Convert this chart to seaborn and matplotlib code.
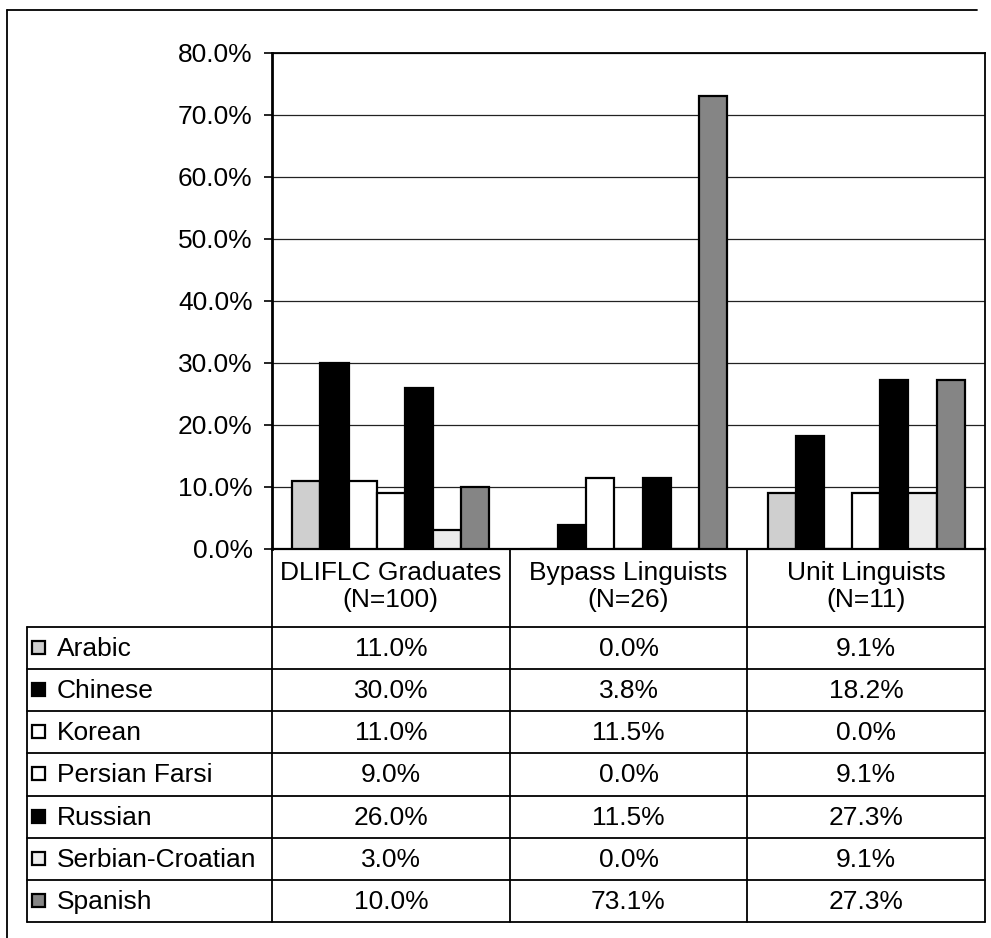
import matplotlib
matplotlib.use("Agg")
import matplotlib.pyplot as plt
import seaborn as sns
import pandas as pd
import numpy as np
from matplotlib.ticker import FuncFormatter
from matplotlib.patches import Rectangle

# Groups of linguists and their sample sizes
groups = ["DLIFLC Graduates", "Bypass Linguists", "Unit Linguists"]
group_n = ["(N=100)", "(N=26)", "(N=11)"]

# Languages and their fills
languages = ["Arabic", "Chinese", "Korean", "Persian Farsi", "Russian",
             "Serbian-Croatian", "Spanish"]
fills = ["#cfcfcf", "#000000", "#ffffff", "#ffffff", "#000000", "#ececec", "#858585"]

# Share of each language within each group (percent)
arabic = [11.0, 0.0, 9.1]
chinese = [30.0, 3.8, 18.2]
korean = [11.0, 11.5, 0.0]
persian = [9.0, 0.0, 9.1]
russian = [26.0, 11.5, 27.3]
serbian = [3.0, 0.0, 9.1]
spanish = [10.0, 73.1, 27.3]
series = [arabic, chinese, korean, persian, russian, serbian, spanish]

y_ticks = [0, 10, 20, 30, 40, 50, 60, 70, 80]

rows = []
for lang, vals in zip(languages, series):
    for g, v in zip(groups, vals):
        rows.append({"group": g, "language": lang, "value": v})
df = pd.DataFrame(rows)

sns.set_theme(style="white")
plt.rcParams["font.family"] = ["Liberation Sans", "DejaVu Sans"]
FS = 19

W, H = 991, 938
fig = plt.figure(figsize=(W / 100, H / 100), dpi=100)
fig.patch.set_facecolor("white")

# Bar chart area (pixel layout converted to figure fractions)
px_left, px_right, px_top, px_base = 272, 985, 53, 549
ax = fig.add_axes([px_left / W, (H - px_base) / H,
                   (px_right - px_left) / W, (px_base - px_top) / H])

sns.barplot(data=df, x="group", y="value", hue="language", order=groups,
            hue_order=languages, palette=fills, edgecolor="black",
            linewidth=1.6, width=0.83, gap=0, ax=ax, legend=False, zorder=3)

ax.set_ylim(0, 80)
ax.set_xlim(-0.5, 2.5)
ax.set_yticks(y_ticks)
ax.yaxis.set_major_formatter(FuncFormatter(lambda v, p: f"{v:.1f}%"))
ax.tick_params(axis="y", labelsize=FS, length=6, width=1.2, direction="out",
               pad=8, left=True, colors="black")
ax.tick_params(axis="x", bottom=False, labelbottom=False)
ax.set_xlabel("")
ax.set_ylabel("")
ax.yaxis.grid(True, color="#222222", linewidth=0.9, zorder=0)
ax.set_axisbelow(True)
for side, sp in ax.spines.items():
    sp.set_visible(True)
    sp.set_color("black")
    sp.set_linewidth(1.3)
ax.spines["left"].set_linewidth(2.0)
ax.spines["bottom"].set_linewidth(1.6)

# Data table beneath the chart, in pixel coordinates
tab = fig.add_axes([0, 0, 1, 1], zorder=5)
tab.set_xlim(0, W)
tab.set_ylim(H, 0)
tab.axis("off")
tab.patch.set_alpha(0)

# Column boundaries follow the category edges of the bar chart
def to_px(xdata):
    disp = ax.transData.transform((xdata, 0))
    return fig.transFigure.inverted().transform(disp)[0] * W

col_edges = [to_px(x) for x in (-0.5, 0.5, 1.5, 2.5)]
tab_left = 27
row_top = 627
tab_bottom = 922
row_lines = np.linspace(row_top, tab_bottom, len(languages) + 1)

lw = 1.3
for xe in col_edges:
    tab.plot([xe, xe], [px_base, tab_bottom], color="black", lw=lw)
tab.plot([tab_left, tab_left], [row_top, tab_bottom], color="black", lw=lw)
for yl in row_lines:
    tab.plot([tab_left, col_edges[-1]], [yl, yl], color="black", lw=lw)

# Header cells
for i, (g, n) in enumerate(zip(groups, group_n)):
    cx = (col_edges[i] + col_edges[i + 1]) / 2
    tab.text(cx, 573, g, ha="center", va="center", fontsize=FS, color="black")
    tab.text(cx, 600, n, ha="center", va="center", fontsize=FS, color="black")

# Body rows: legend key, language name, values
for r, (lang, vals, fc) in enumerate(zip(languages, series, fills)):
    cy = (row_lines[r] + row_lines[r + 1]) / 2
    tab.add_patch(Rectangle((32, cy - 7), 13, 13, facecolor=fc,
                            edgecolor="black", lw=1.6))
    tab.text(57, cy + 1, lang, ha="left", va="center", fontsize=FS, color="black")
    for i, v in enumerate(vals):
        cx = (col_edges[i] + col_edges[i + 1]) / 2
        tab.text(cx, cy + 1, f"{v:.1f}%", ha="center", va="center",
                 fontsize=FS, color="black")

# Outer chart frame
tab.plot([7, 977], [10, 10], color="black", lw=1.3)
tab.plot([7, 7], [10, H], color="black", lw=1.3)

fig.savefig("out.png", dpi=100, facecolor="white")
